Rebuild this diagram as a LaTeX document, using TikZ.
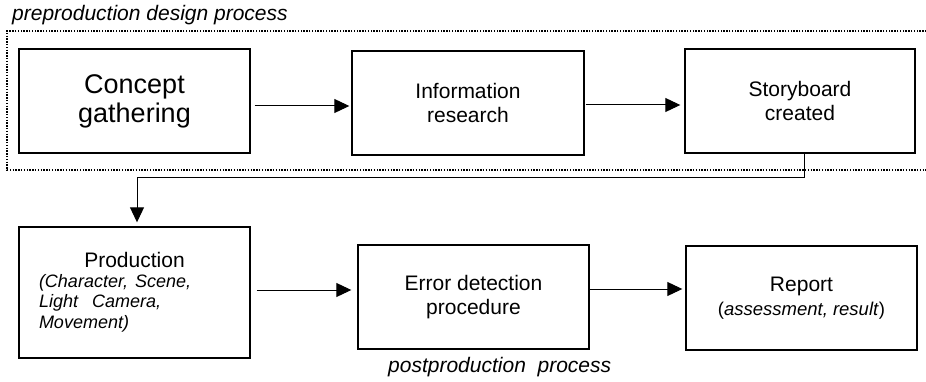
\documentclass[tikz,border=0pt]{standalone}
\usepackage{fontspec}
\setmainfont{Liberation Sans}
\usetikzlibrary{arrows.meta}
\begin{document}
\begin{tikzpicture}[x=1pt,y=-1pt,
  box/.style={draw, line width=1.4pt, rectangle, inner sep=0pt, align=center,
    minimum width=231pt, minimum height=104pt, font=\fontsize{21}{24}\selectfont},
  arr/.style={line width=1pt, -{Triangle[length=15pt,width=14pt]}},
  lbl/.style={inner sep=0pt, font=\fontsize{21}{24}\selectfont\itshape},
  grp/.style={line width=2pt, dash pattern=on 1.4pt off 1.4pt},
]
\useasboundingbox (0,0) rectangle (926,382);

% group frame
\draw[grp] (932,31) -- (7,31) -- (7,170) -- (932,170);
\node[lbl, anchor=base west] (title) at (12,21) {preproduction design process};

% boxes
\node[box, font=\fontsize{27}{29}\selectfont] (concept) at (134.5,101) {Concept\\gathering};
\node[box, minimum width=232pt] (info) at (468,103) {Information\\research};
\node[box, minimum width=230pt] (story) at (800,101) {Storyboard\\created};

\node[box, minimum height=131pt, text width=191pt, align=left] (prod) at (134.5,292.5)
  {{\centering Production\par}\vspace{-1pt}{\raggedright\fontsize{18}{20.5}\selectfont\itshape (Character, Scene,\\ Light\ \ Camera,\\ Movement)\par}};
\node[box] (err) at (473.5,297) {Error detection\\procedure};
\node[box] (rep) at (801.5,298) {Report\\{\fontsize{18.5}{24}\selectfont(\textit{assessment, result})}};

\node[lbl, anchor=base west] (post) at (388,372) {postproduction\ \ process};

% connectors
\draw[arr] ([shift={(4,5)}]concept.east) -- ([shift={(-2,3)}]info.west);
\draw[arr] ([shift={(1,2)}]info.east) -- ([shift={(-4,4)}]story.west);
\coordinate (bend1) at (804,178);
\coordinate (bend2) at (137,178);
\draw[arr] ([xshift=4pt]story.south) -- (bend1) -- (bend2) -- ([shift={(2.5,-4)}]prod.north);
\draw[arr] ([shift={(6,-2.5)}]prod.east) -- ([shift={(-6,-7)}]err.west);
\draw[arr] ([shift={(-1,-8)}]err.east) -- ([shift={(-3,-9)}]rep.west);
\end{tikzpicture}
\end{document}
